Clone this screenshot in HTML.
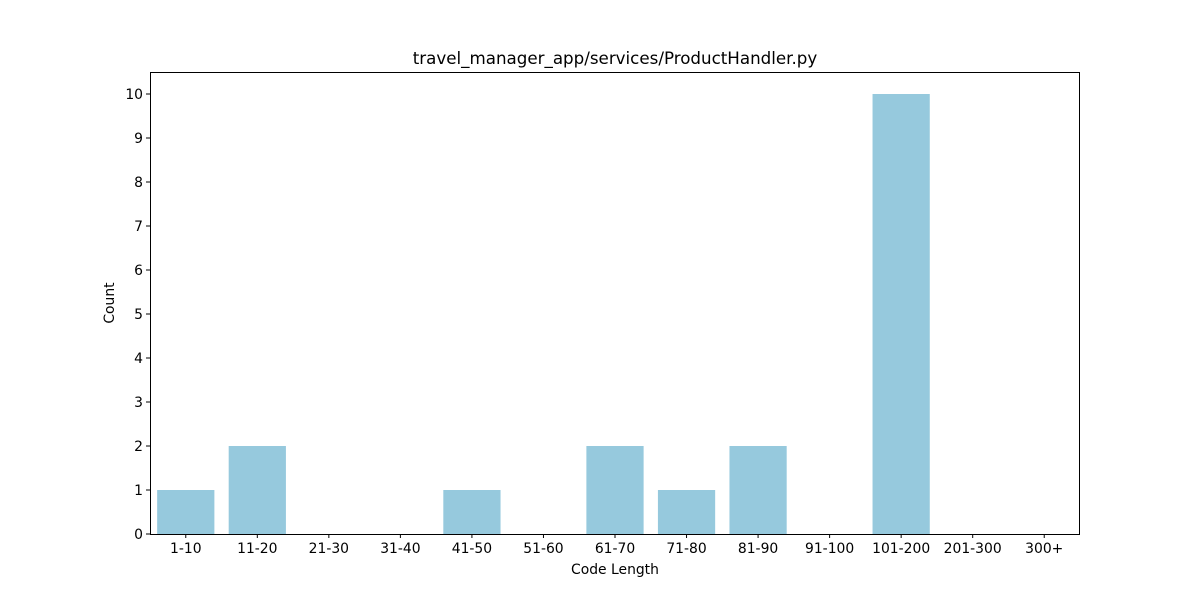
<!DOCTYPE html>
<html><head><meta charset="utf-8"><style>
body{margin:0;background:#fff;}
svg text{font-family:"DejaVu Sans","Liberation Sans",sans-serif;font-size:13.9px;fill:#000;}
</style></head><body>
<svg id="chart" width="1200" height="600">
<rect x="0" y="0" width="1200" height="600" fill="#fff"/>
<g id="bars"></g><g id="xt"></g><g id="yt"></g>
<rect x="150.5" y="72.5" width="929" height="462" fill="none" stroke="#000" stroke-width="1"/>
<text x="615" y="64" text-anchor="middle" style="font-size:16.7px">travel_manager_app/services/ProductHandler.py</text>
<text x="615" y="574" text-anchor="middle">Code Length</text>
<text x="114" y="303" text-anchor="middle" transform="rotate(-90 114 303)">Count</text>
</svg>
<script>
const categories=["1-10","11-20","21-30","31-40","41-50","51-60","61-70","71-80","81-90","91-100","101-200","201-300","300+"];
const counts=[1,2,0,0,1,0,2,1,2,0,10,0,0];
const yTicks=[0,1,2,3,4,5,6,7,8,9,10];
const L=150,R=1080,T=72,B=534,yMax=10.5;
const ns="http://www.w3.org/2000/svg";
const step=(R-L)/categories.length;
const xc=i=>L+step*(i+0.5);
const y=v=>B-(B-T)*v/yMax;
const bars=document.getElementById('bars'),xt=document.getElementById('xt'),yt=document.getElementById('yt');
function mk(t,a){const e=document.createElementNS(ns,t);for(const k in a)e.setAttribute(k,a[k]);return e;}
categories.forEach((c,i)=>{
 const v=counts[i];
 const r=mk('rect',{x:xc(i)-step*0.4,y:y(v),width:step*0.8,height:B-y(v),fill:'#96c9dd'});
 
 
 bars.appendChild(r);
 const tk=mk('line',{x1:xc(i),x2:xc(i),y1:B,y2:B+4,stroke:'#000'});
 
 
 xt.appendChild(tk);
 const tx=mk('text',{x:xc(i),y:B+19,'text-anchor':'middle'});tx.textContent=c;
 
 
 xt.appendChild(tx);
});
yTicks.forEach(v=>{
 const tk=mk('line',{x1:L-4,x2:L,y1:y(v),y2:y(v),stroke:'#000'});
 
 
 yt.appendChild(tk);
 const tx=mk('text',{x:L-7,y:y(v)+5,'text-anchor':'end'});tx.textContent=v;
 
 
 yt.appendChild(tx);
});
</script>
</body></html>
